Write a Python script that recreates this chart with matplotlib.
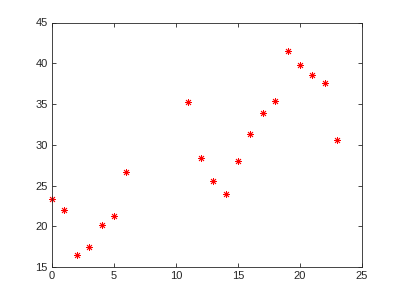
import matplotlib
matplotlib.use('Agg')
import matplotlib.pyplot as plt

x_vals = [0, 1, 2, 3, 4, 5, 6, 11, 12, 13, 14, 15, 16, 17, 18, 19, 20, 21, 22, 23]
y_vals = [23.4, 22.0, 16.5, 17.4, 20.2, 21.3, 26.6, 35.2, 28.4, 25.5,
          23.9, 28.0, 31.3, 33.9, 35.4, 41.5, 39.8, 38.5, 37.6, 30.6]

x_ticks = [0, 5, 10, 15, 20, 25]
y_ticks = [15, 20, 25, 30, 35, 40, 45]

plt.rcParams['font.family'] = ['Liberation Sans', 'DejaVu Sans']

fig = plt.figure(figsize=(4, 3), dpi=100)
ax = fig.add_axes([0.13, 0.11, 0.775, 0.815])
# matlab-style asterisk: 8 spokes
ax.plot(x_vals, y_vals, linestyle='none', marker=(8, 2, 0), color='red',
        markersize=5, markeredgewidth=0.6, clip_on=False)

ax.set_xlim(0, 25)
ax.set_ylim(15, 45)
ax.set_xticks(x_ticks)
ax.set_yticks(y_ticks)

dark = '#262626'
for spine in ax.spines.values():
    spine.set_color(dark)
    spine.set_linewidth(0.6)
ax.tick_params(direction='in', top=True, right=True, length=3, width=0.6,
               colors=dark, labelsize=8, pad=3)

fig.savefig('out.png', dpi=100)
